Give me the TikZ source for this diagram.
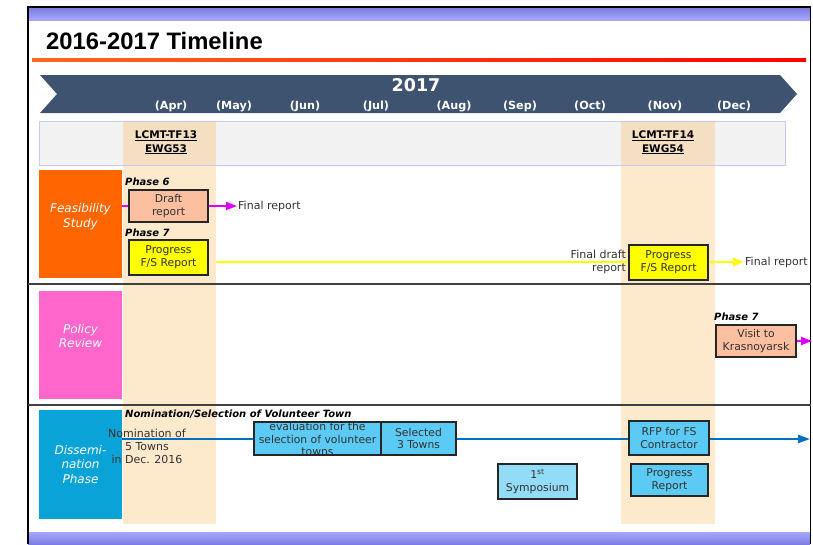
\documentclass[tikz,border=0pt]{standalone}
\usepackage{fontspec}
\setmainfont{DejaVu Sans}
\newfontfamily\titlefont{Liberation Sans}
\usetikzlibrary{arrows.meta,calc}
\definecolor{bannerc}{RGB}{61,83,112}
\definecolor{bandfill}{RGB}{242,242,242}
\definecolor{banddraw}{RGB}{200,200,245}
\definecolor{colfill}{RGB}{253,233,204}
\definecolor{colband}{RGB}{244,223,194}
\definecolor{feasc}{RGB}{255,102,0}
\definecolor{polc}{RGB}{255,102,204}
\definecolor{dissc}{RGB}{10,163,216}
\definecolor{salmonc}{RGB}{252,192,160}
\definecolor{yellowc}{RGB}{255,255,0}
\definecolor{lbluec}{RGB}{91,203,245}
\definecolor{sympc}{RGB}{146,220,248}
\definecolor{linebluec}{RGB}{0,112,192}
\definecolor{magc}{RGB}{220,0,255}
\definecolor{txtgrey}{RGB}{50,50,50}
\definecolor{stripdark}{RGB}{125,125,225}
\definecolor{striplight}{RGB}{168,168,255}
\definecolor{titleorange}{RGB}{255,105,30}
\definecolor{titlered}{RGB}{255,0,0}
\begin{document}
\begin{tikzpicture}[x=1pt,y=-1pt,
  boxtxt/.style={font=\fontsize{10.8}{12.8}\selectfont, text=txtgrey, align=center},
  tbox/.style={boxtxt, draw=black!85, line width=1.1pt, inner sep=0pt},
  salmonbox/.style={tbox, fill=salmonc},
  yellowbox/.style={tbox, fill=yellowc},
  bluebox/.style={tbox, fill=lbluec},
  catbox/.style={inner sep=0pt, minimum width=83, text=white, align=center,
     font=\itshape\fontsize{12}{14.5}\selectfont},
  phaselab/.style={anchor=west, inner sep=0pt, font=\bfseries\itshape\fontsize{10}{11}\selectfont},
  monthlab/.style={text=white, inner sep=0pt, font=\bfseries\fontsize{11.2}{12}\selectfont},
  meetlab/.style={align=center, inner sep=0pt, font=\bfseries\fontsize{10.5}{13.5}\selectfont},
  plainlab/.style={inner sep=1pt, text=txtgrey, font=\fontsize{11}{12.5}\selectfont},
  magarrow/.style={magc, line width=2pt, -{Triangle[length=11pt,width=8pt]}},
  yelarrow/.style={yellowc, line width=2.8pt, -{Triangle[length=11pt,width=8pt]}},
  bluearrow/.style={linebluec, line width=2pt, -{Triangle[length=12pt,width=8pt]}},
  divider/.style={black!75, line width=1.5pt}
]
\useasboundingbox (0,0) rectangle (813,544);
% strips and frame
\shade[top color=stripdark, bottom color=striplight] (28,8) rectangle (810,20);
\shade[top color=striplight, bottom color=stripdark] (28,532) rectangle (810,544);
\draw[black, line width=1.5pt] (28,544) -- (28,7) -- (810.5,7) -- (810.5,544);
% title
\node[anchor=base west, inner sep=0pt, font=\titlefont\bfseries\fontsize{23.8}{26}\selectfont] (title) at (46,49) {2016-2017 Timeline};
\shade[left color=titleorange, right color=titlered] (32,58) rectangle (806,61);
% banner
\fill[bannerc] (40,75) -- (780,75) -- (797,94) -- (780,113) -- (40,113) -- (57,94) -- cycle;
\node[text=white, inner sep=0pt, font=\bfseries\fontsize{17.5}{19}\selectfont] (year) at (416,85) {2017};
\node[monthlab] (apr) at (171,106) {(Apr)};
\node[monthlab] (may) at (234,106) {(May)};
\node[monthlab] (jun) at (305,106) {(Jun)};
\node[monthlab] (jul) at (376,106) {(Jul)};
\node[monthlab] (aug) at (454,106) {(Aug)};
\node[monthlab] (sep) at (520,106) {(Sep)};
\node[monthlab] (oct) at (590,106) {(Oct)};
\node[monthlab] (nov) at (665,106) {(Nov)};
\node[monthlab] (dec) at (734,106) {(Dec)};
% meeting band and columns
\fill[bandfill] (39,121) rectangle (785,165);
\fill[colfill] (123,121) rectangle (216,524);
\fill[colfill] (621,121) rectangle (715,524);
\fill[colband] (123,121) rectangle (216,165);
\fill[colband] (621,121) rectangle (715,165);
\draw[banddraw, line width=0.8pt] (39,121) rectangle (785,165);
\node[meetlab] (m1) at (166,142.5) {\underline{LCMT-TF13}\\\underline{EWG53}};
\node[meetlab] (m2) at (663,142.5) {\underline{LCMT-TF14}\\\underline{EWG54}};
% dividers
\draw[divider] (28,284) -- (811,284);
\draw[divider] (28,405) -- (811,405);
% category boxes
\node[catbox, fill=feasc, minimum height=108] (feas) at (80.5,224)
  {\raisebox{4pt}[0pt][0pt]{\begin{tabular}{@{}c@{}}Feasibility\\Study\end{tabular}}};
\node[catbox, fill=polc, minimum height=108] (pol) at (80.5,345)
  {\raisebox{4.5pt}[0pt][0pt]{\begin{tabular}{@{}c@{}}Policy\\Review\end{tabular}}};
\node[catbox, fill=dissc, minimum height=109] (diss) at (80.5,464.5)
  {Dissemi-\\nation\\Phase};
% feasibility row
\node[phaselab] (ph6) at (125,182) {Phase 6};
\node[salmonbox, minimum width=79, minimum height=32] (draft) at (168.5,206) {Draft\\report};
\node[phaselab] (ph7a) at (125,233) {Phase 7};
\node[yellowbox, minimum width=79, minimum height=35] (prog1) at (168.5,257.5) {Progress\\F/S Report};
\node[yellowbox, minimum width=79, minimum height=35] (prog2) at (668.5,262.5) {Progress\\F/S Report};
\node[plainlab, anchor=west] (fr1) at (237,206) {Final report};
\node[plainlab, anchor=west] (fr2) at (744,262) {Final report};
\coordinate (ystart) at (216,262);
\draw[yellowc, line width=2.8pt] (ystart) -- (prog2.west |- ystart);
\node[plainlab, anchor=east, align=right] (fdr) at (627,262) {Final draft\\report};
\draw[magc, line width=2pt] (feas.east |- draft.west) -- (draft.west);
\draw[magarrow] (draft.east) -- (fr1.west);
\draw[yelarrow] (prog2.east |- ystart) -- (fr2.west);
% policy row
\node[phaselab] (ph7b) at (714,317) {Phase 7};
\node[salmonbox, minimum width=80, minimum height=32] (visit) at (756,341) {Visit to\\Krasnoyarsk};
\coordinate (pend) at (812,341);
\draw[magarrow] (visit.east) -- (pend);
% dissemination row
\node[phaselab] (nomsel) at (125,414.5) {Nomination/Selection of Volunteer Town};
\coordinate (bend) at (810,439);
\draw[linebluec, line width=2pt] (diss.east |- bend) -- ($(diss.east |- bend)+(132,0)$);
\node[bluebox, minimum width=127, minimum height=33,
  path picture={\node[boxtxt] (evaltxt) at ($(path picture bounding box.center)+(0,0.5)$) {evaluation for the\\selection of volunteer\\towns};}]
  (eval) at (317.5,438.5) {};
\node[bluebox, minimum width=75, minimum height=33] (sel) at (418.5,438.5) {Selected\\3 Towns};
\node[bluebox, minimum width=80, minimum height=34] (rfp) at (669,438) {RFP for FS\\Contractor};
\draw[linebluec, line width=2pt] (sel.east |- bend) -- (rfp.west |- bend);
\draw[bluearrow] (rfp.east |- bend) -- (bend);
\node[plainlab, align=center, font=\fontsize{11}{13}\selectfont] (nom) at (147,446) {Nomination of\\5 Towns\\in Dec. 2016};
\node[bluebox, minimum width=77, minimum height=32] (prep) at (669.5,480) {Progress\\Report};
\node[tbox, fill=sympc, minimum width=79, minimum height=35] (symp) at (537.5,481.5) {1\textsuperscript{st}\\Symposium};
\end{tikzpicture}
\end{document}
